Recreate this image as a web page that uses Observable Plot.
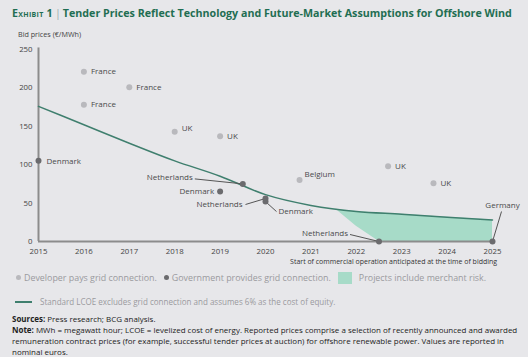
<!DOCTYPE html>
<html>
<head>
<meta charset="utf-8">
<script src="https://cdn.jsdelivr.net/npm/d3@7"></script>
<script src="https://cdn.jsdelivr.net/npm/@observablehq/plot@0.6"></script>
<style>
  html, body { margin: 0; padding: 0; background: #e7e7ea; }
  body { width: 528px; height: 357px; position: relative; overflow: hidden; font-family: "Open Sans", "Noto Sans", sans-serif; }
  .abs { position: absolute; white-space: nowrap; }
  #title { left: 12px; top: 6px; font-weight: 700; font-size: 11px; color: #1f6e52; }
  #title .sc { font-variant: small-caps; letter-spacing: 0.3px; }
  #title .bar { font-weight: 400; color: #9aa; margin: 0 2px; }
  #ylab { left: 18px; top: 29px; font-size: 7.2px; color: #444; }
  #chart { position: absolute; left: 0; top: 40px; }
  #xlab { right: 31px; top: 257px; font-size: 7px; color: #333; }
  .leg { font-size: 8.5px; color: #9a9a9e; top: 272px; left: 16px; }
  .leg .item { margin-right: 7px; }
  .dot { display: inline-block; width: 5px; height: 5px; border-radius: 50%; vertical-align: middle; margin-right: 3px; position: relative; top: -1px; }
  .sq { display: inline-block; width: 14px; height: 12px; background: #a7dbc8; vertical-align: middle; margin-right: 7px; position: relative; top: -1px; }
  .ln { display: inline-block; width: 17px; height: 1.5px; background: #3f7f6e; vertical-align: middle; margin-right: 8px; position: relative; top: -1px; }
  .leg2 { font-size: 8.1px; color: #9a9a9e; top: 296px; left: 15px; }
  .note { left: 12px; font-size: 7.9px; color: #222; }
  .note b { font-weight: 700; }
</style>
</head>
<body>
<div id="title" class="abs"><span class="sc">Exhibit 1</span><span class="bar">|</span>Tender Prices Reflect Technology and Future-Market Assumptions for Offshore Wind</div>
<div id="ylab" class="abs">Bid prices (€/MWh)</div>
<div id="chart"></div>
<div id="xlab" class="abs">Start of commercial operation anticipated at the time of bidding</div>
<div id="lg1" class="abs leg"><span class="item"><span class="dot" style="background:#b9b9bd"></span>Developer pays grid connection.</span><span class="item"><span class="dot" style="background:#6b6b6e"></span>Government provides grid connection.</span><span><span class="sq"></span>Projects include merchant risk.</span></div>
<div id="lg4" class="abs leg2"><span class="ln"></span>Standard LCOE excludes grid connection and assumes 6% as the cost of equity.</div>
<div id="n0" class="abs note" style="top:313px;"><b>Sources:</b> Press research; BCG analysis.</div>
<div id="n1" class="abs note" style="top:324px;"><b>Note:</b> MWh = megawatt hour; LCOE = levelized cost of energy. Reported prices comprise a selection of recently announced and awarded</div>
<div id="n2" class="abs note" style="top:335px;">remuneration contract prices (for example, successful tender prices at auction) for offshore renewable power. Values are reported in</div>
<div id="n3" class="abs note" style="top:346px;">nominal euros.</div>
<script>
// ---- data ----
const yearTicks = [2015, 2016, 2017, 2018, 2019, 2020, 2021, 2022, 2023, 2024, 2025];
const priceTicks = [0, 50, 100, 150, 200, 250];

// Developer pays grid connection (light grey dots)
const devNames  = ["France", "France", "France", "UK", "UK", "Belgium", "UK", "UK"];
const devYears  = [2016, 2017, 2016, 2018, 2019, 2020.75, 2022.7, 2023.7];
const devPrices = [221, 201, 178, 143, 137, 80, 98, 76];

// Government provides grid connection (dark grey dots)
const govNames  = ["Denmark", "Netherlands", "Denmark", "Netherlands", "Denmark", "Netherlands", "Germany"];
const govYears  = [2015, 2019.5, 2019, 2020, 2020, 2022.5, 2025];
const govPrices = [105, 75, 65, 56, 52, 0, 0];

// Standard LCOE curve
const lcoeYears  = [2015, 2016, 2017, 2018, 2019, 2020, 2021, 2022, 2023, 2024, 2025];
const lcoeValues = [176, 152, 128, 105, 85, 61, 47, 39, 35.5, 31.5, 28];

// Projects include merchant risk (shaded region)
const merchantYears = [2021.55, 2022, 2022.5, 2023, 2024, 2025];
const merchantLow   = [42, 20, 0, 0, 0, 0];
const merchantHigh  = [42, 39, 37, 35.5, 31.5, 28];

// ---- build tables ----
const dev = devNames.map((name, i) => ({name, year: devYears[i], price: devPrices[i], i}));
const gov = govNames.map((name, i) => ({name, year: govYears[i], price: govPrices[i], i}));
const lcoe = lcoeYears.map((year, i) => ({year, value: lcoeValues[i]}));
const merchant = merchantYears.map((year, i) => ({year, lo: merchantLow[i], hi: merchantHigh[i]}));

const W = 528, H = 232, mL = 38, mR = 36, mT = 9, mB = 31;
const pxPerYear = (W - mL - mR) / 10;
const pxPerUnit = (H - mT - mB) / 250;

// leader-line offsets (pixels) for government labels
const leaderCfg = {1: [-48, -5], 3: [-20, 6], 4: [11, 10], 5: [-29, -7], 6: [9, -30]};
const leaders = gov.filter(d => leaderCfg[d.i]).map(d => ({...d, lx: leaderCfg[d.i][0], ly: leaderCfg[d.i][1]}));

const txt = {fontSize: 8, fill: "#4a4a4a", fontFamily: "Open Sans, sans-serif"};
const pick = (arr, idx) => arr.filter(d => idx.includes(d.i));

const chart = Plot.plot({
  width: W, height: H,
  marginLeft: mL, marginRight: mR, marginTop: mT, marginBottom: mB,
  style: {background: "transparent", fontFamily: "Open Sans, sans-serif"},
  x: {domain: [2015, 2025], ticks: yearTicks, tickFormat: d => String(d), tickSize: 0, tickPadding: 7, label: null},
  y: {domain: [0, 250], ticks: priceTicks, tickSize: 0, tickPadding: 6, label: null},
  marks: [
    Plot.areaY(merchant, {x: "year", y1: "lo", y2: "hi", fill: "#a7dbc8", fillOpacity: 1}),
    Plot.ruleX([2015], {y1: 0, y2: 252, stroke: "#8c8c8c", strokeWidth: 2}),
    Plot.ruleY([0], {x1: 2015, x2: 2025, stroke: "#8c8c8c", strokeWidth: 2}),
    Plot.line(lcoe, {x: "year", y: "value", stroke: "#3f7f6e", strokeWidth: 1.5, curve: "monotone-x"}),
    Plot.link(leaders, {
      x1: "year", y1: "price",
      x2: d => d.year + d.lx / pxPerYear, y2: d => d.price - d.ly / pxPerUnit,
      stroke: "#555", strokeWidth: 1
    }),
    Plot.dot(dev, {x: "year", y: "price", r: 3, fill: "#b9b9bd"}),
    Plot.dot(gov, {x: "year", y: "price", r: 3, fill: "#6b6b6e"}),
    // developer labels
    Plot.text(pick(dev, [0, 1, 2, 4, 6, 7]), {x: "year", y: "price", text: "name", textAnchor: "start", dx: 7, ...txt}),
    Plot.text(pick(dev, [3]), {x: "year", y: "price", text: "name", textAnchor: "start", dx: 7, dy: -3, ...txt}),
    Plot.text(pick(dev, [5]), {x: "year", y: "price", text: "name", textAnchor: "start", dx: 5, dy: -6, ...txt}),
    // government labels
    Plot.text(pick(gov, [0]), {x: "year", y: "price", text: "name", textAnchor: "start", dx: 8, dy: 1, ...txt}),
    Plot.text(pick(gov, [2]), {x: "year", y: "price", text: "name", textAnchor: "end", dx: -6, ...txt}),
    Plot.text(pick(gov, [1]), {x: "year", y: "price", text: "name", textAnchor: "end", dx: -50, dy: -6, ...txt}),
    Plot.text(pick(gov, [3]), {x: "year", y: "price", text: "name", textAnchor: "end", dx: -23, dy: 6, ...txt}),
    Plot.text(pick(gov, [4]), {x: "year", y: "price", text: "name", textAnchor: "start", dx: 13, dy: 10, ...txt}),
    Plot.text(pick(gov, [5]), {x: "year", y: "price", text: "name", textAnchor: "end", dx: -31, dy: -8, ...txt}),
    Plot.text(pick(gov, [6]), {x: "year", y: "price", text: "name", textAnchor: "middle", dx: 10, dy: -36, ...txt})
  ]
});
chart.querySelectorAll("g[aria-label='x-axis tick label'], g[aria-label='y-axis tick label']").forEach(g => {
  g.setAttribute("font-size", "7.8");
  g.setAttribute("fill", "#444");
});
document.getElementById("chart").appendChild(chart);

// fit layout text widths to the reference extents
function fit(id, target) {
  const el = document.getElementById(id);
  let s = parseFloat(getComputedStyle(el).fontSize);
  for (let k = 0; k < 4; k++) {
    const w = el.getBoundingClientRect().width;
    if (!w) break;
    s = s * target / w;
    el.style.fontSize = s.toFixed(2) + "px";
  }
  return s;
}
fit("title", 500);
fit("lg1", 470);
fit("lg4", 320);
fit("xlab", 207);
const ns = fit("n2", 492);
["n0", "n1", "n3"].forEach(id => document.getElementById(id).style.fontSize = ns.toFixed(2) + "px");
</script>
</body>
</html>
